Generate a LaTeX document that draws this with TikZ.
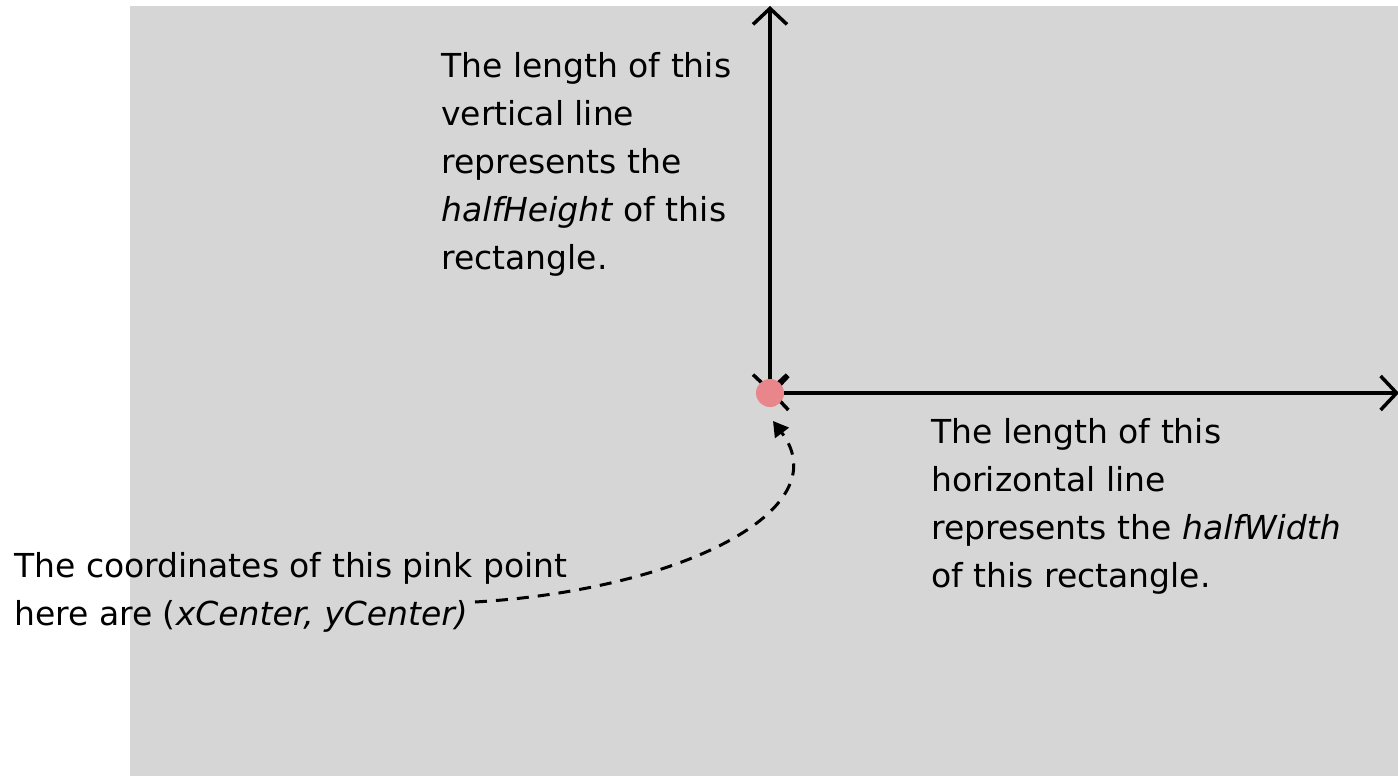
\documentclass[tikz,border=0pt]{standalone}
\usepackage{fontspec}
\setmainfont{DejaVu Sans}
\usetikzlibrary{arrows.meta}
\definecolor{bggray}{HTML}{D6D6D6}
\definecolor{pinkpt}{HTML}{E8868B}
\tikzset{
  lbl/.style={anchor=north west, inner sep=0pt, align=left, font=\fontsize{33}{48}\selectfont},
  axisline/.style={line width=3.5pt, {Straight Barb[length=16pt,width=34pt]}-{Straight Barb[length=16pt,width=34pt]}},
  pointer/.style={line width=3pt, dash pattern=on 12pt off 9pt, -{Triangle[length=15pt,width=17pt]}}
}
\begin{document}
\begin{tikzpicture}[x=1pt,y=-1pt]
\useasboundingbox (0,0) rectangle (1398,776);
\fill[bggray] (130,6) rectangle (1398,776);
\coordinate (c) at (770,393);
\coordinate (top) at (770,6);
\coordinate (right) at (1399,393);
\draw[axisline] (c) -- (top);
\draw[axisline] (c) -- (right);
\node[circle, fill=pinkpt, minimum size=28pt, inner sep=0pt] (pt) at (c) {};
\node[lbl] (t1) at (441,52) {The length of this\\vertical line\\represents the\\\textit{halfHeight} of this\\rectangle.};
\node[lbl] (t2) at (931,418) {The length of this\\horizontal line\\represents the \textit{halfWidth}\\of this rectangle.};
\node[lbl] (t3) at (14,552) {The coordinates of this pink point\\here are (\textit{xCenter, yCenter)}};
\coordinate (s) at (475,602);
\coordinate (e) at (773,421);
\draw[pointer] (s) .. controls (680,590) and (840,510) .. (e);
\end{tikzpicture}
\end{document}
